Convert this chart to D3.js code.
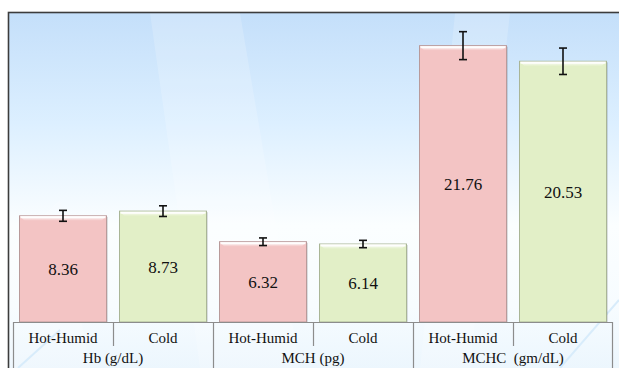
<!DOCTYPE html>
<html><head><meta charset="utf-8">
<script src="https://cdn.jsdelivr.net/npm/d3@7"></script>
<style>body{margin:0;background:#fff}svg{display:block}</style></head>
<body>
<svg id="c" width="619" height="368"></svg>
<script>
const groups = ["Hb (g/dL)", "MCH (pg)", "MCHC  (gm/dL)"];
const series = ["Hot-Humid", "Cold"];
const hotHumid = [8.36, 6.32, 21.76];
const cold = [8.73, 6.14, 20.53];
const hotHumidErr = [0.43, 0.30, 1.10];
const coldErr = [0.42, 0.29, 1.04];
const colors = {"Hot-Humid": "#f3c4c4", "Cold": "#e2efc7"};
const strokes = {"Hot-Humid": "#b89a9a", "Cold": "#a9b596"};
const FONT = '"Liberation Serif"';

const svg = d3.select("#c");
const W = 619, H = 368;
const defs = svg.append("defs");

// background
const bg = defs.append("linearGradient").attr("id","bg").attr("x1",0).attr("y1",0).attr("x2",0).attr("y2",1);
bg.append("stop").attr("offset","0%").attr("stop-color","#c4dffa");
bg.append("stop").attr("offset","30%").attr("stop-color","#dcefff");
bg.append("stop").attr("offset","58%").attr("stop-color","#fbfeff");
bg.append("stop").attr("offset","80%").attr("stop-color","#f7fcff");
bg.append("stop").attr("offset","100%").attr("stop-color","#eaf5fd");
const hl = defs.append("linearGradient").attr("id","hl").attr("x1",0).attr("y1",0).attr("x2",0).attr("y2",1);
hl.append("stop").attr("offset","0%").attr("stop-color","#fff").attr("stop-opacity",0.95);
hl.append("stop").attr("offset","100%").attr("stop-color","#fff").attr("stop-opacity",0);

svg.append("rect").attr("x",8).attr("y",12).attr("width",W).attr("height",H).attr("fill","url(#bg)");
// subtle diagonal light streaks
const streaks = [
  [[150,13],[240,13],[300,368],[200,368]],
  [[455,13],[510,13],[470,368],[420,368]],
  [[8,250],[60,200],[90,368],[8,368]]
];
svg.append("g").selectAll("polygon").data(streaks).join("polygon")
  .attr("points", d => d.map(p => p.join(",")).join(" "))
  .attr("fill","#ffffff").attr("opacity",0.18);
svg.append("line").attr("x1",560).attr("y1",368).attr("x2",619).attr("y2",300)
  .attr("stroke","#d8ecfb").attr("stroke-width",2);
svg.append("line").attr("x1",18).attr("y1",368).attr("x2",60).attr("y2",330)
  .attr("stroke","#d8ecfb").attr("stroke-width",2);

// frame
svg.append("rect").attr("x",8.5).attr("y",12.5).attr("width",W).attr("height",H)
  .attr("fill","none").attr("stroke","#3c3c3c").attr("stroke-width",1.6);

// scales
const left = 13, right = 613, base = 322;
const x0 = d3.scaleBand().domain(groups).range([left, right]).padding(0);
const x1 = d3.scaleBand().domain(series).range([0, x0.bandwidth()]).paddingInner(0.13).paddingOuter(0.065);
const y = d3.scaleLinear().domain([0, 25]).range([base, base - 25*12.7]);

const data = [];
groups.forEach((g,i) => {
  data.push({g, s:"Hot-Humid", v:hotHumid[i], e:hotHumidErr[i]});
  data.push({g, s:"Cold", v:cold[i], e:coldErr[i]});
});

const bars = svg.append("g").selectAll("g").data(data).join("g")
  .attr("transform", d => `translate(${x0(d.g)+x1(d.s)},0)`);
const bw = x1.bandwidth();
// shadow
bars.append("rect").attr("x",1.5).attr("y",d=>y(d.v)+1).attr("width",bw).attr("height",d=>base-y(d.v)-1)
  .attr("fill","#000").attr("opacity",0.12);
bars.append("rect").attr("x",0).attr("y",d=>y(d.v)).attr("width",bw).attr("height",d=>base-y(d.v))
  .attr("fill",d=>colors[d.s]).attr("stroke",d=>strokes[d.s]).attr("stroke-width",1);
// bevel top highlight
bars.append("polygon")
  .attr("points", d => {const t=y(d.v); return `0.5,${t+0.5} ${bw-0.5},${t+0.5} ${bw-5},${t+5} 5,${t+5}`;})
  .attr("fill","url(#hl)");
bars.append("line").attr("x1",1).attr("x2",bw-1).attr("y1",d=>y(d.v)+1.5).attr("y2",d=>y(d.v)+1.5)
  .attr("stroke","#fff").attr("stroke-width",2).attr("opacity",0.9);
// value labels
bars.append("text").attr("x",bw/2).attr("y",d=>(y(d.v)+base)/2).attr("dy","0.36em")
  .attr("text-anchor","middle")
  .style("font-family",FONT).style("font-size","17px").attr("fill","#111").text(d=>d3.format(".2f")(d.v));
// error bars
const eb = bars.append("g").attr("stroke","#111").attr("stroke-width",1.6);
eb.append("line").attr("x1",bw/2).attr("x2",bw/2).attr("y1",d=>y(d.v+d.e)).attr("y2",d=>y(d.v-d.e));
eb.append("line").attr("x1",bw/2-4).attr("x2",bw/2+4).attr("y1",d=>y(d.v+d.e)).attr("y2",d=>y(d.v+d.e));
eb.append("line").attr("x1",bw/2-4).attr("x2",bw/2+4).attr("y1",d=>y(d.v-d.e)).attr("y2",d=>y(d.v-d.e));

// category table
const tbl = svg.append("g").attr("stroke","#8c8c8c").attr("stroke-width",1.2);
tbl.append("line").attr("x1",left).attr("x2",right-1).attr("y1",base+0.5).attr("y2",base+0.5);
const gEdges = groups.map(g => x0(g)).concat([right-1]);
tbl.selectAll(".gv").data(gEdges).join("line").attr("class","gv")
  .attr("x1",d=>d+0.5).attr("x2",d=>d+0.5).attr("y1",base).attr("y2",H);
tbl.selectAll(".sv").data(groups).join("line").attr("class","sv")
  .attr("x1",d=>x0(d)+x0.bandwidth()/2+0.5).attr("x2",d=>x0(d)+x0.bandwidth()/2+0.5)
  .attr("y1",base).attr("y2",base+24);

const txt = svg.append("g").attr("fill","#111").attr("text-anchor","middle");
txt.selectAll(".sl").data(data).join("text")
  .style("font-family",FONT).style("font-size","15px")
  .attr("x", d => x0(d.g)+x0.bandwidth()/4*(d.s==="Hot-Humid"?1:3))
  .attr("y", 342.5).text(d=>d.s);
txt.selectAll(".gl").data(groups).join("text")
  .style("font-family",FONT).style("font-size","15px").style("white-space","pre")
  .attr("x", d => x0(d)+x0.bandwidth()/2).attr("y", 362.5)
  .text(d=>d);
</script>
</body></html>
